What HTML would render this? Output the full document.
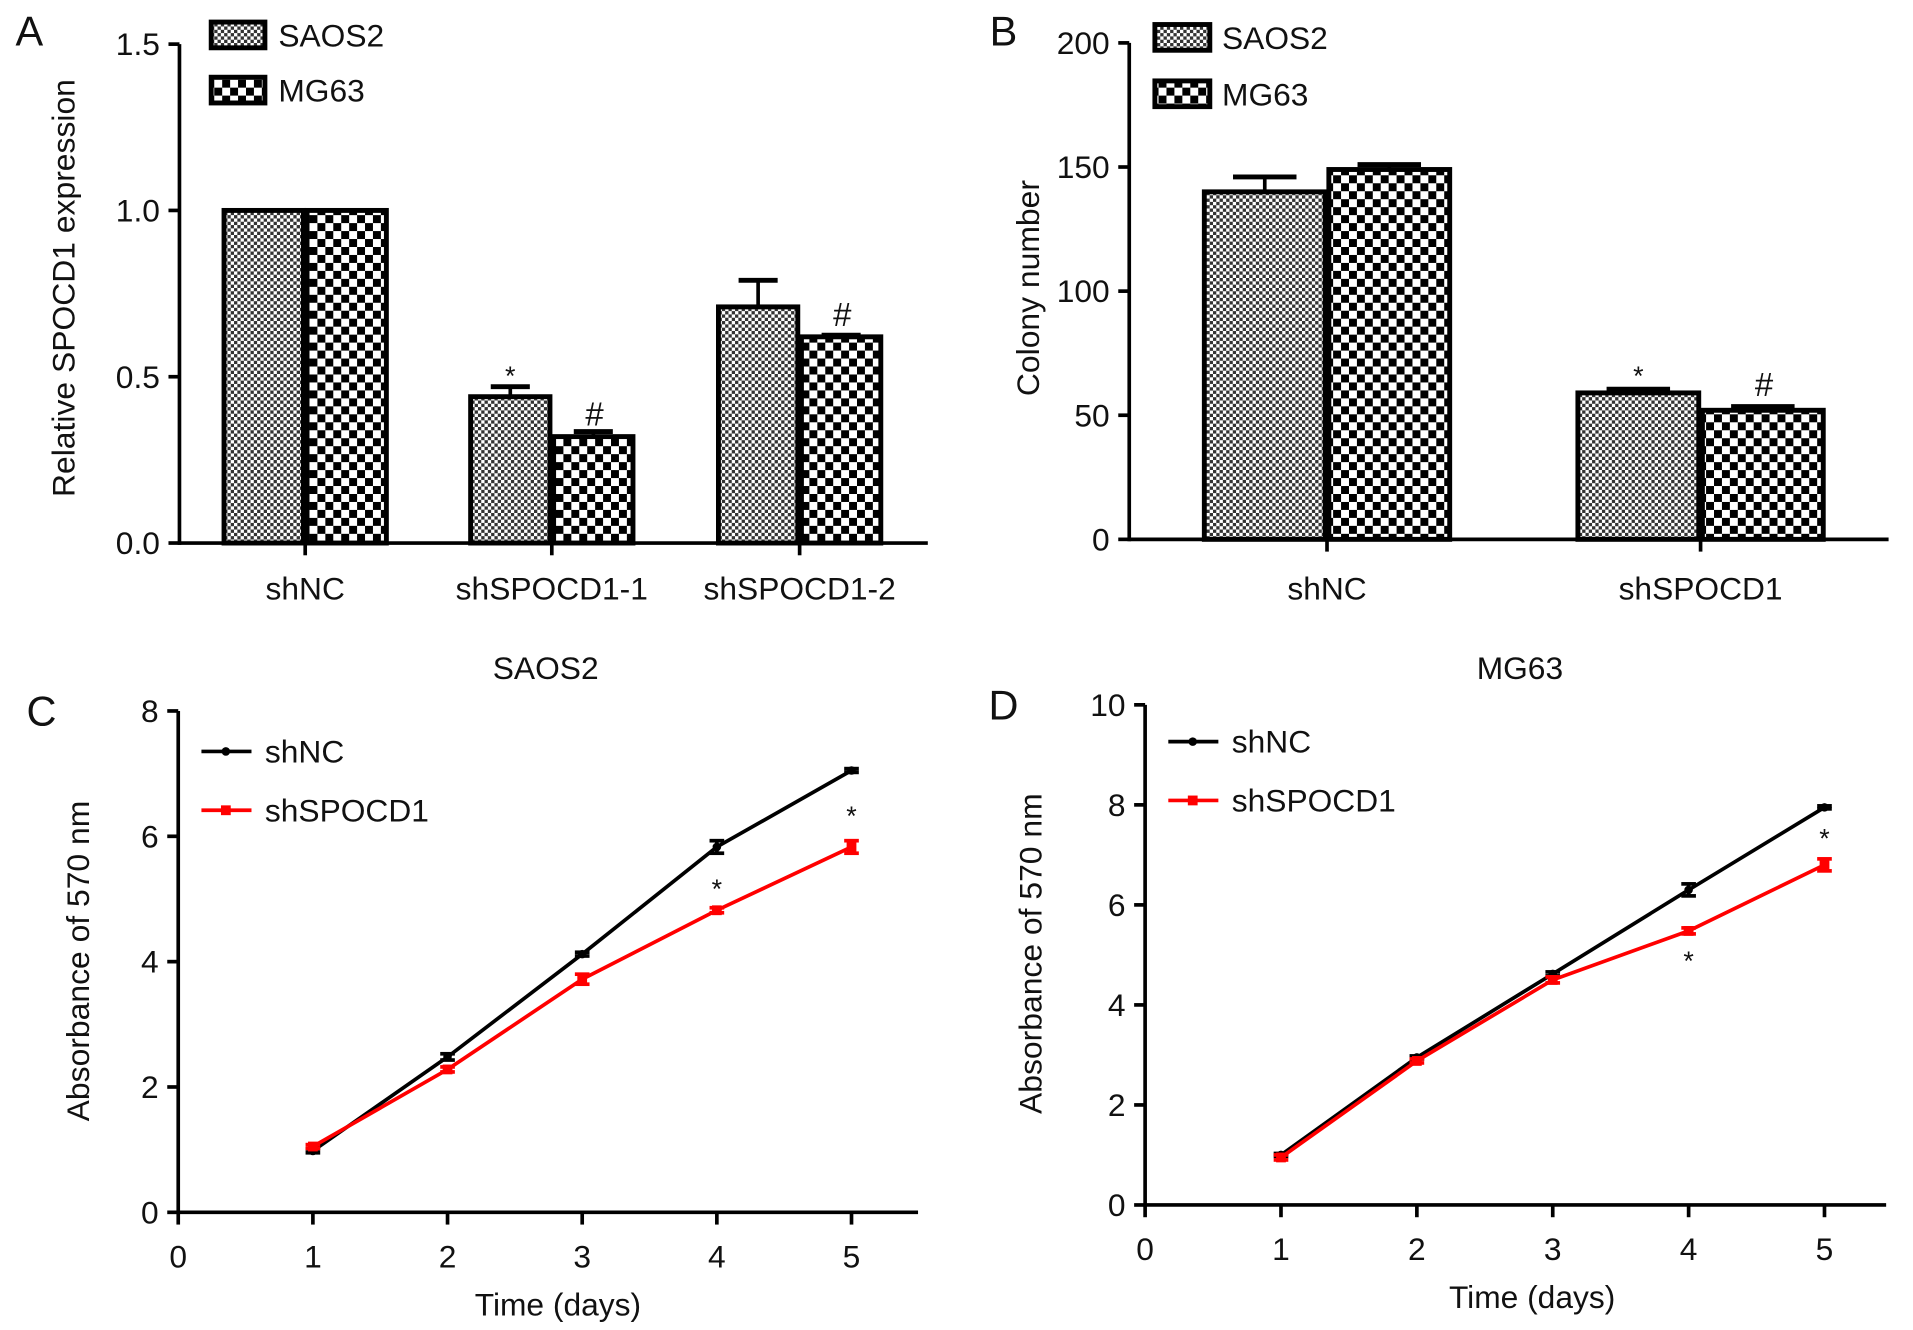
<!DOCTYPE html>
<html><head><meta charset="utf-8"><style>
html,body{margin:0;padding:0;background:#fff;}
svg{display:block;font-family:"Liberation Sans",Arial,sans-serif;}
</style></head><body>
<svg id="fig" width="1913" height="1330" viewBox="0 0 1567 1085" preserveAspectRatio="none" xmlns="http://www.w3.org/2000/svg">
<defs>
<pattern id="pS" width="5.4" height="5.4" patternUnits="userSpaceOnUse"><rect width="5.4" height="5.4" fill="#fff"/><rect width="2.7" height="2.7" fill="#333"/><rect x="2.7" y="2.7" width="2.7" height="2.7" fill="#333"/></pattern>
<pattern id="pM" width="13" height="13" patternUnits="userSpaceOnUse"><rect width="13" height="13" fill="#fff"/><rect width="6.5" height="6.5" fill="#000"/><rect x="6.5" y="6.5" width="6.5" height="6.5" fill="#000"/></pattern>
</defs>
<g id="root"></g>
</svg>
<script>
// Panel A data
const catsA = ["shNC","shSPOCD1-1","shSPOCD1-2"];
const saosA = [1.0,0.44,0.71];
const saosAErr = [0,0.03,0.08];
const mgA = [1.0,0.32,0.62];
const mgAErr = [0,0.015,0.005];
const ticksA = [0,0.5,1.0,1.5];
// Panel B data
const catsB = ["shNC","shSPOCD1"];
const saosB = [140,59];
const saosBErr = [6,1.5];
const mgB = [149,52];
const mgBErr = [2,1.5];
const ticksB = [0,50,100,150,200];
// Panel C data
const days = [1,2,3,4,5];
const cBlack = [0.98,2.48,4.12,5.83,7.05];
const cBlackErr = [0.03,0.05,0.03,0.1,0.03];
const cRed = [1.05,2.28,3.72,4.82,5.83];
const cRedErr = [0.03,0.04,0.08,0.04,0.1];
const ticksC = [0,2,4,6,8];
// Panel D data
const dBlack = [1.0,2.95,4.62,6.3,7.95];
const dBlackErr = [0.03,0.03,0.04,0.12,0.03];
const dRed = [0.95,2.88,4.5,5.48,6.8];
const dRedErr = [0.05,0.04,0.06,0.06,0.12];
const ticksD = [0,2,4,6,8,10];
const ticksX = [0,1,2,3,4,5];

const FS=26;
const NS="http://www.w3.org/2000/svg";
const root=document.getElementById('root');
function el(tag,attrs,parent,text){const e=document.createElementNS(NS,tag);for(const k in attrs)e.setAttribute(k,attrs[k]);if(text!==undefined)e.textContent=text;(parent||root).appendChild(e);return e;}
function txt(x,y,s,size,anchor,parent,extra){const t=el('text',Object.assign({x:x,y:y,'font-size':size,'text-anchor':anchor||'middle',fill:'#111'},extra||{}),parent,s);return t;}

function yAxis(g,x,y0,y1,ticks,scale,fmt){
  el('line',{x1:x,y1:y0+1.5,x2:x,y2:y1,stroke:'#000','stroke-width':3},g);
  ticks.forEach(v=>{const y=scale(v);
    el('line',{x1:x-9,y1:y,x2:x,y2:y,stroke:'#000','stroke-width':3},g);
    const t=txt(x-16,y+9,fmt(v),FS,'end',g);
    
    
  });
}

// ---------- Panel A ----------
(function(){
  const g=el('g',{});
  
  
  const x0=147,yB=443,yT=36,vmax=1.5;
  const Y=v=>yB-(v/vmax)*(yB-yT);
  const centers=[250,452,655]; const bw=68;
  txt(24,37,"A",34,'middle',g);
  yAxis(g,x0,yB,yT,ticksA,Y,v=>v.toFixed(1));
  const t=txt(0,0,"Relative SPOCD1 expression",FS,'middle',g,{transform:'translate(61,235) rotate(-90)'});
  
  
  catsA.forEach((c,i)=>{
    const cx=centers[i];
    [[saosA,saosAErr,'url(#pS)',-1],[mgA,mgAErr,'url(#pM)',0]].forEach(([vals,errs,fill,off],j)=>{
      const bx=cx+off*bw, y=Y(vals[i]);
      if(errs[i]>0){const ye=Y(vals[i]+errs[i]);
        el('line',{x1:bx+bw/2,y1:y,x2:bx+bw/2,y2:ye,stroke:'#000','stroke-width':3},g);
        el('line',{x1:bx+bw/2-16,y1:ye,x2:bx+bw/2+16,y2:ye,stroke:'#000','stroke-width':4},g);}
      const r=el('rect',{x:bx+1.5,y:y,width:bw-3,height:yB-y,fill:fill,stroke:'#000','stroke-width':4},g);
      
      
    });
    el('line',{x1:cx,y1:yB,x2:cx,y2:yB+10,stroke:'#000','stroke-width':3},g);
    const l=txt(cx,489,c,FS,'middle',g);
    
    
  });
  txt(418,314,"*",22,'middle',g);
  txt(487,347,"#",27,'middle',g);
  txt(690,266,"#",27,'middle',g);
  el('line',{x1:x0,y1:yB,x2:760,y2:yB,stroke:'#000','stroke-width':3},g);
  [['SAOS2','url(#pS)',18],['MG63','url(#pM)',63]].forEach(([n,f,y])=>{
    const r=el('rect',{x:173,y:y,width:44,height:21,fill:f,stroke:'#000','stroke-width':4},g);
    
    
    const t=txt(228,y+20,n,FS,'start',g);
    
    
  });
})();

// ---------- Panel B ----------
(function(){
  const g=el('g',{});
  
  
  const x0=925,yB=440,yT=35,vmax=200;
  const Y=v=>yB-(v/vmax)*(yB-yT);
  const centers=[1087,1393]; const bw=102;
  txt(822,37,"B",34,'middle',g);
  yAxis(g,x0,yB,yT,ticksB,Y,v=>String(v));
  const t=txt(0,0,"Colony number",FS,'middle',g,{transform:'translate(851,235) rotate(-90)'});
  
  
  catsB.forEach((c,i)=>{
    const cx=centers[i];
    [[saosB,saosBErr,'url(#pS)',-1],[mgB,mgBErr,'url(#pM)',0]].forEach(([vals,errs,fill,off],j)=>{
      const bx=cx+off*bw, y=Y(vals[i]);
      if(errs[i]>0){const ye=Y(vals[i]+errs[i]);
        el('line',{x1:bx+bw/2,y1:y,x2:bx+bw/2,y2:ye,stroke:'#000','stroke-width':3},g);
        el('line',{x1:bx+bw/2-26,y1:ye,x2:bx+bw/2+26,y2:ye,stroke:'#000','stroke-width':4},g);}
      const r=el('rect',{x:bx+1.5,y:y,width:bw-3,height:yB-y,fill:fill,stroke:'#000','stroke-width':4},g);
      
      
    });
    el('line',{x1:cx,y1:yB,x2:cx,y2:yB+10,stroke:'#000','stroke-width':3},g);
    const l=txt(cx,489,c,FS,'middle',g);
    
    
  });
  txt(1342,314,"*",22,'middle',g);
  txt(1445,323,"#",27,'middle',g);
  el('line',{x1:x0,y1:yB,x2:1547,y2:yB,stroke:'#000','stroke-width':3},g);
  [['SAOS2','url(#pS)',20],['MG63','url(#pM)',66]].forEach(([n,f,y])=>{
    const r=el('rect',{x:946,y:y,width:45,height:21,fill:f,stroke:'#000','stroke-width':4},g);
    
    
    const t=txt(1001,y+20,n,FS,'start',g);
    
    
  });
})();

// ---------- Line panels ----------
function linePanel(o){
  const g=el('g',{});
  
  
  const X=d=>o.x0+d*o.dx;
  const Y=v=>o.yB-(v/o.vmax)*(o.yB-o.yT);
  txt(o.lx,o.yT+12,o.letter,34,'middle',g);
  const tt=txt(o.titleX,554,o.title,FS,'middle',g);
  
  
  yAxis(g,o.x0,o.yB,o.yT,o.yticks,Y,v=>String(v));
  el('line',{x1:o.x0,y1:o.yB,x2:o.xEnd,y2:o.yB,stroke:'#000','stroke-width':3},g);
  ticksX.forEach(d=>{
    el('line',{x1:X(d),y1:o.yB,x2:X(d),y2:o.yB+10,stroke:'#000','stroke-width':3},g);
    const l=txt(X(d),o.yB+45,String(d),FS,'middle',g);
    
    
  });
  const xt=txt(o.titleX+10,o.yB+84,"Time (days)",FS,'middle',g);
  
  
  const yt=txt(0,0,"Absorbance of 570 nm",FS,'middle',g,{transform:'translate('+o.ytx+','+(o.yB-205)+') rotate(-90)'});
  
  
  [[o.black,o.blackErr,'#000','shNC'],[o.red,o.redErr,'#f00','shSPOCD1']].forEach(([vals,errs,col,nm],si)=>{
    const pts=days.map((d,i)=>X(d)+','+Y(vals[i])).join(' ');
    const pl=el('polyline',{points:pts,fill:'none',stroke:col,'stroke-width':3},g);
    
    
    days.forEach((d,i)=>{
      const x=X(d),y=Y(vals[i]);
      const y1=Y(vals[i]+errs[i]),y2=Y(vals[i]-errs[i]);
      el('line',{x1:x,y1:y1,x2:x,y2:y2,stroke:col,'stroke-width':3},g);
      el('line',{x1:x-6,y1:y1,x2:x+6,y2:y1,stroke:col,'stroke-width':3},g);
      el('line',{x1:x-6,y1:y2,x2:x+6,y2:y2,stroke:col,'stroke-width':3},g);
      let m;
      if(si==0){m=el('circle',{cx:x,cy:y,r:3.5,fill:col},g);}
      else{m=el('rect',{x:x-4,y:y-4,width:8,height:8,fill:col},g);}
      
      
    });
  });
  o.stars.forEach(([d,v,dy])=>{txt(X(d),Y(v)+dy,"*",22,'middle',g);});
  const ly=o.legY;
  el('line',{x1:o.legX,y1:ly,x2:o.legX+41,y2:ly,stroke:'#000','stroke-width':3},g);
  el('circle',{cx:o.legX+20,cy:ly,r:3.5,fill:'#000'},g);
  const l1=txt(o.legX+52,ly+9,"shNC",FS,'start',g);
  
  
  el('line',{x1:o.legX,y1:ly+48,x2:o.legX+41,y2:ly+48,stroke:'#f00','stroke-width':3},g);
  el('rect',{x:o.legX+16,y:ly+44,width:8,height:8,fill:'#f00'},g);
  const l2=txt(o.legX+52,ly+57,"shSPOCD1",FS,'start',g);
  
  
}
linePanel({name:'panel-c',letter:'C',lx:34,title:'SAOS2',titleX:447,x0:146,dx:110.3,xEnd:752,yB:989,yT:580,vmax:8,yticks:ticksC,ytx:73,
  black:cBlack,blackErr:cBlackErr,red:cRed,redErr:cRedErr,legX:165,legY:613,stars:[[4,4.82,-10],[5,5.83,-18]]});
linePanel({name:'panel-d',letter:'D',lx:822,title:'MG63',titleX:1245,x0:938,dx:111.3,xEnd:1545,yB:983,yT:575,vmax:10,yticks:ticksD,ytx:853,
  black:dBlack,blackErr:dBlackErr,red:dRed,redErr:dRedErr,legX:957,legY:605,stars:[[4,5.48,32],[5,6.8,-14]]});
</script>
</body></html>
